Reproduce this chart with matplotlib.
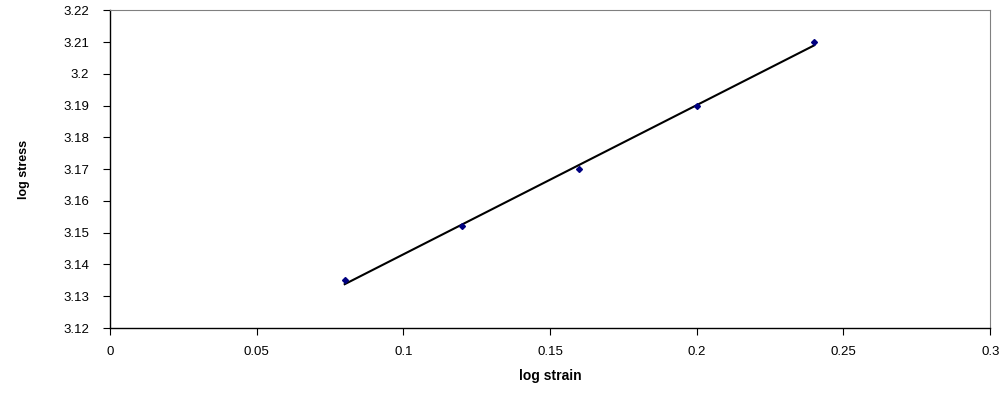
import matplotlib
matplotlib.use("Agg")
import matplotlib.pyplot as plt
import numpy as np

plt.rcParams['font.family'] = ['Liberation Sans', 'DejaVu Sans']

# data
log_strain = [0.08, 0.12, 0.16, 0.20, 0.24]
log_stress = [3.135, 3.152, 3.170, 3.190, 3.210]

x_ticks = [0, 0.05, 0.1, 0.15, 0.2, 0.25, 0.3]
x_labels = ['0', '0.05', '0.1', '0.15', '0.2', '0.25', '0.3']
y_ticks = [3.12, 3.13, 3.14, 3.15, 3.16, 3.17, 3.18, 3.19, 3.2, 3.21, 3.22]
y_labels = ['3.12', '3.13', '3.14', '3.15', '3.16', '3.17', '3.18', '3.19', '3.2', '3.21', '3.22']

fig = plt.figure(figsize=(10.06, 3.94), dpi=100)
ax = fig.add_axes([0.1093, 0.1675, 0.875, 0.806])

# linear trend line
slope, intercept = np.polyfit(log_strain, log_stress, 1)
xs = np.array([log_strain[0], log_strain[-1]])
ax.plot(xs, slope * xs + intercept, color='black', lw=1.5, zorder=2)

ax.plot(log_strain, log_stress, linestyle='none', marker='D', markersize=3,
        color='#000080', zorder=3)

ax.set_xlim(0, 0.3)
ax.set_ylim(3.12, 3.22)
ax.set_xticks(x_ticks)
ax.set_xticklabels(x_labels)
ax.set_yticks(y_ticks)
ax.set_yticklabels(y_labels)
ax.tick_params(axis='x', labelsize=9.5, length=5, width=0.8, direction='out', pad=8)
ax.tick_params(axis='y', labelsize=9.5, length=5, width=0.8, direction='out', pad=10)

for side in ['top', 'right']:
    ax.spines[side].set_color('#808080')
    ax.spines[side].set_linewidth(0.8)
for side in ['left', 'bottom']:
    ax.spines[side].set_color('black')
    ax.spines[side].set_linewidth(1.0)

ax.set_xlabel('log strain', fontsize=10, fontweight='bold', labelpad=8)
ax.set_ylabel('log stress', fontsize=9, fontweight='bold', labelpad=24)

fig.savefig('out.png', dpi=100)
